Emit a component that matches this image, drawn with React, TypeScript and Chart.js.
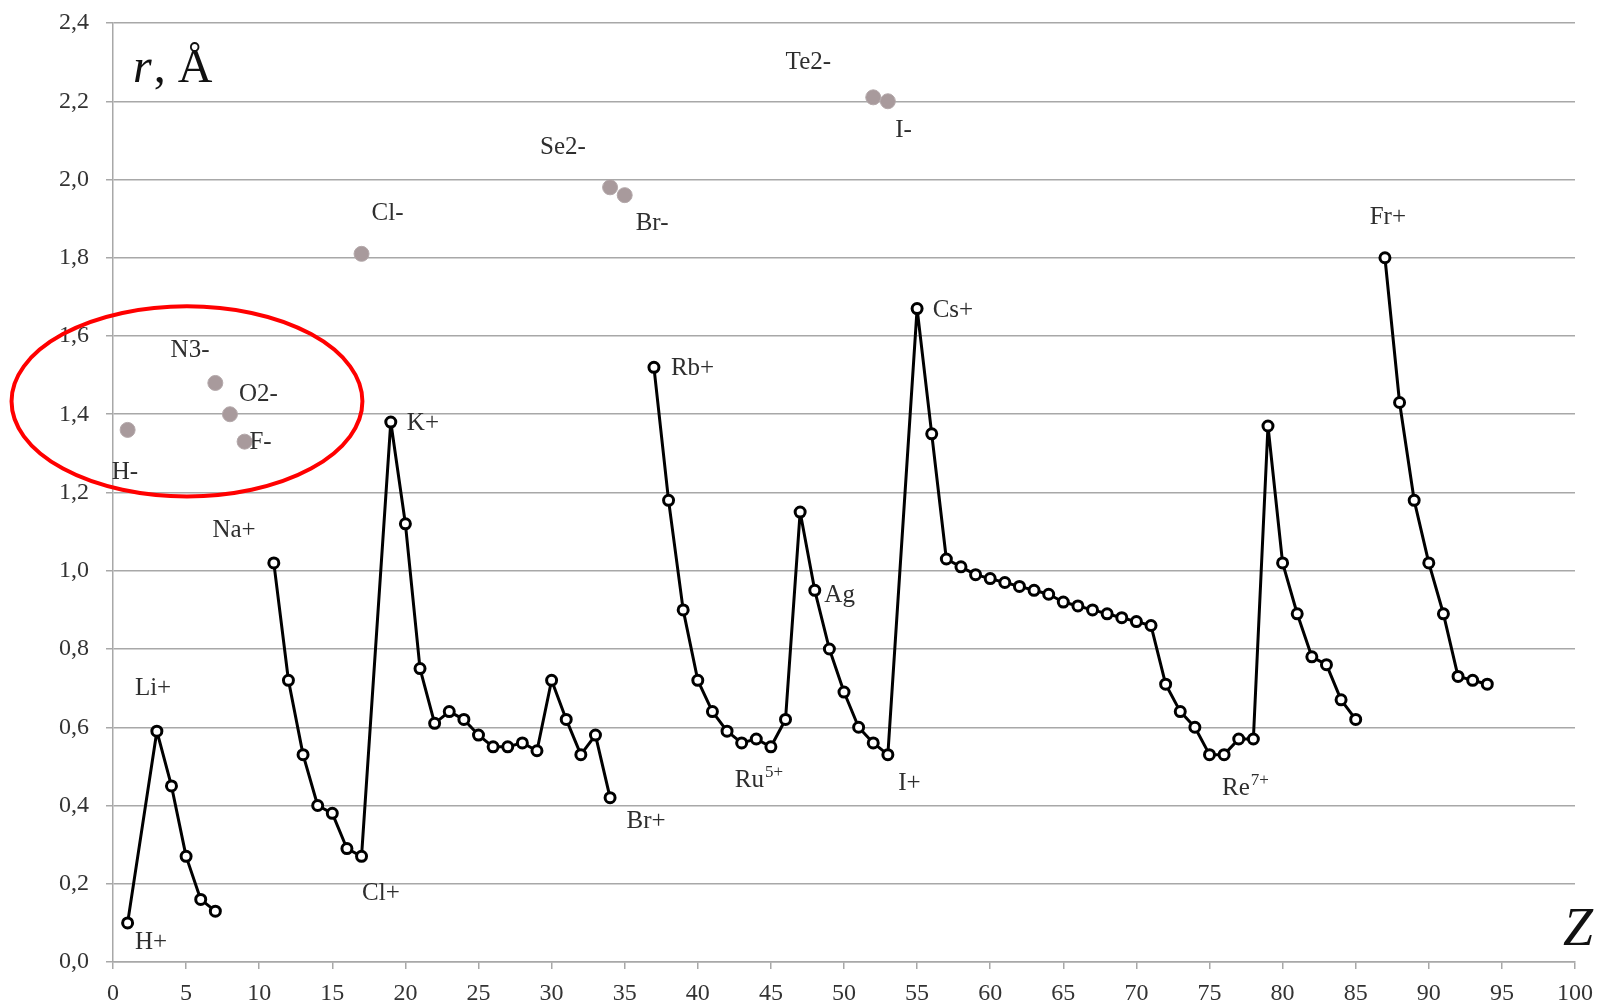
import React, { useEffect, useRef } from 'react';
import { Chart, registerables } from 'chart.js';

Chart.register(...registerables);

// ---- axis ranges ----
const zMin = 0;
const zMax = 100;
const zStep = 5;
const rMin = 0;
const rMax = 2.4;
const rStep = 0.2;

// ---- cation radii (open circles joined by a line), one array pair per chain ----
const chain1Z = [1, 3, 4, 5, 6, 7];
const chain1R = [0.10, 0.59, 0.45, 0.27, 0.16, 0.13];

const chain2Z = [11, 12, 13, 14, 15, 16, 17, 19, 20, 21, 22, 23, 24, 25, 26, 27, 28, 29, 30, 31, 32, 33, 34];
const chain2R = [1.02, 0.72, 0.53, 0.40, 0.38, 0.29, 0.27, 1.38, 1.12, 0.75, 0.61, 0.64, 0.62, 0.58, 0.55, 0.55, 0.56, 0.54, 0.72, 0.62, 0.53, 0.58, 0.42];

const chain3Z = [37, 38, 39, 40, 41, 42, 43, 44, 45, 46, 47, 48, 49, 50, 51, 52, 53,
  55, 56, 57, 58, 59, 60, 61, 62, 63, 64, 65, 66, 67, 68, 69, 70, 71,
  72, 73, 74, 75, 76, 77, 78, 79, 80, 81, 82, 83, 84, 85];
const chain3R = [1.52, 1.18, 0.90, 0.72, 0.64, 0.59, 0.56, 0.57, 0.55, 0.62, 1.15, 0.95, 0.80, 0.69, 0.60, 0.56, 0.53,
  1.67, 1.35, 1.03, 1.01, 0.99, 0.98, 0.97, 0.96, 0.95, 0.94, 0.92, 0.91, 0.90, 0.89, 0.88, 0.87, 0.86,
  0.71, 0.64, 0.60, 0.53, 0.53, 0.57, 0.57, 1.37, 1.02, 0.89, 0.78, 0.76, 0.67, 0.62];

const chain4Z = [87, 88, 89, 90, 91, 92, 93, 94];
const chain4R = [1.80, 1.43, 1.18, 1.02, 0.89, 0.73, 0.72, 0.71];

// ---- anion radii (filled grey dots) ----
const anionZ = [1, 7, 8, 9, 17, 34, 35, 52, 53];
const anionR = [1.36, 1.48, 1.40, 1.33, 1.81, 1.98, 1.96, 2.21, 2.20];

// ---- ion labels: text, superscript, anchor (Z, r) ----
const labelText = ['H-', 'N3-', 'O2-', 'F-', 'Na+', 'K+', 'Li+', 'H+', 'Cl+', 'Cl-', 'Br+', 'Ru', 'I+', 'Ag', 'Rb+', 'Cs+', 'Se2-', 'Br-', 'Te2-', 'I-', 'Fr+', 'Re'];
const labelSup = ['', '', '', '', '', '', '', '', '', '', '', '5+', '', '', '', '', '', '', '', '', '', '7+'];
const labelZ = [0.82, 5.27, 9.94, 10.09, 8.28, 21.2, 2.74, 2.6, 18.33, 18.78, 36.46, 44.15, 54.48, 49.7, 39.64, 57.45, 30.78, 36.87, 47.56, 54.07, 87.2, 77.43];
const labelR = [1.252, 1.564, 1.45, 1.327, 1.103, 1.376, 0.699, 0.051, 0.175, 1.913, 0.358, 0.464, 0.456, 0.937, 1.517, 1.666, 2.083, 1.887, 2.30, 2.126, 1.904, 0.444];

// ---- highlighted group (red ellipse) in data units ----
const ellipseCenterZ = 5.06;
const ellipseCenterR = 1.433;
const ellipseHalfZ = 12.0;
const ellipseHalfR = 0.243;

const axisTitleY = 'r';
const axisTitleYUnit = ', Å';
const axisTitleX = 'Z';

const SERIF = "'Liberation Serif', 'DejaVu Serif', serif";

const toPts = (zs: number[], rs: number[]) => zs.map((z, i) => ({ x: z, y: rs[i] }));

const overlayPlugin = {
  id: 'overlay',
  afterDatasetsDraw(chart: any) {
    const { ctx, chartArea, scales } = chart;
    const xs = scales.x;
    const ys = scales.y;
    ctx.save();

    // red ellipse
    const cx = xs.getPixelForValue(ellipseCenterZ);
    const cy = ys.getPixelForValue(ellipseCenterR);
    const rx = xs.getPixelForValue(ellipseCenterZ + ellipseHalfZ) - cx;
    const ry = cy - ys.getPixelForValue(ellipseCenterR + ellipseHalfR);
    ctx.beginPath();
    ctx.ellipse(cx, cy, rx, ry, 0, 0, Math.PI * 2);
    ctx.strokeStyle = '#ff0000';
    ctx.lineWidth = 4;
    ctx.stroke();

    // labels
    ctx.fillStyle = '#2e2e2e';
    ctx.textBaseline = 'middle';
    for (let i = 0; i < labelText.length; i++) {
      const px = xs.getPixelForValue(labelZ[i]);
      const py = ys.getPixelForValue(labelR[i]);
      ctx.font = `25px ${SERIF}`;
      const w1 = ctx.measureText(labelText[i]).width;
      let w2 = 0;
      if (labelSup[i]) {
        ctx.font = `17px ${SERIF}`;
        w2 = ctx.measureText(labelSup[i]).width;
      }
      const left = px - (w1 + w2) / 2;
      ctx.textAlign = 'left';
      ctx.font = `25px ${SERIF}`;
      ctx.fillText(labelText[i], left, py);
      if (labelSup[i]) {
        ctx.font = `17px ${SERIF}`;
        ctx.fillText(labelSup[i], left + w1 + 1, py - 8);
      }
    }

    // axis titles
    ctx.fillStyle = '#111111';
    ctx.textBaseline = 'alphabetic';
    ctx.textAlign = 'left';
    ctx.font = `italic 48px ${SERIF}`;
    const rx0 = chartArea.left + 20;
    const by = chartArea.top + 59;
    ctx.fillText(axisTitleY, rx0, by);
    const wr = ctx.measureText(axisTitleY).width;
    ctx.font = `48px ${SERIF}`;
    ctx.fillText(axisTitleYUnit, rx0 + wr + 2, by);

    ctx.font = `italic 54px ${SERIF}`;
    ctx.fillText(axisTitleX, chartArea.right - 12, chartArea.bottom - 17);
    ctx.restore();
  },
};

export default function App() {
  const ref = useRef<HTMLCanvasElement | null>(null);

  useEffect(() => {
    if (!ref.current) return;
    const cationStyle = {
      type: 'scatter' as const,
      showLine: true,
      borderColor: '#000000',
      borderWidth: 3,
      borderJoinStyle: 'round' as const,
      backgroundColor: '#ffffff',
      pointBackgroundColor: '#ffffff',
      pointBorderColor: '#000000',
      pointBorderWidth: 3,
      pointRadius: 5,
      tension: 0,
      order: 1,
    };
    const chart = new Chart(ref.current, {
      type: 'scatter',
      data: {
        datasets: [
          { ...cationStyle, label: 'chain1', data: toPts(chain1Z, chain1R) },
          { ...cationStyle, label: 'chain2', data: toPts(chain2Z, chain2R) },
          { ...cationStyle, label: 'chain3', data: toPts(chain3Z, chain3R) },
          { ...cationStyle, label: 'chain4', data: toPts(chain4Z, chain4R) },
          {
            type: 'scatter',
            label: 'anions',
            data: toPts(anionZ, anionR),
            showLine: false,
            pointBackgroundColor: '#a89a9c',
            pointBorderColor: '#b3a8aa',
            pointBorderWidth: 1,
            pointRadius: 7.5,
            order: 2,
          },
        ],
      },
      options: {
        responsive: false,
        animation: false,
        layout: { padding: { top: 23, right: 23, left: 0, bottom: 0 } },
        plugins: {
          legend: { display: false },
          tooltip: { enabled: false },
        },
        scales: {
          x: {
            type: 'linear',
            min: zMin,
            max: zMax,
            afterFit: (s: any) => { s.height = 44; s.paddingLeft = 0; s.paddingRight = 0; },
            ticks: {
              stepSize: zStep,
              color: '#333333',
              font: { family: SERIF, size: 24 },
              padding: 10,
              maxRotation: 0,
            },
            grid: {
              display: true,
              drawOnChartArea: false,
              drawTicks: true,
              tickLength: 7,
              color: '#a8a8a8',
              lineWidth: 1.5,
            },
            border: { display: true, color: '#a8a8a8', width: 1.5 },
          },
          y: {
            type: 'linear',
            min: rMin,
            max: rMax,
            afterFit: (s: any) => { s.width = 113; s.paddingTop = 0; s.paddingBottom = 0; },
            ticks: {
              stepSize: rStep,
              color: '#333333',
              font: { family: SERIF, size: 24 },
              padding: 17,
              callback: (v: any) => Number(v).toFixed(1).replace('.', ','),
            },
            grid: {
              display: true,
              drawTicks: true,
              tickLength: 7,
              color: '#a8a8a8',
              lineWidth: 1.5,
            },
            border: { display: true, color: '#a8a8a8', width: 1.5 },
          },
        },
      },
      plugins: [overlayPlugin],
    } as any);
    return () => chart.destroy();
  }, []);

  return (
    <div style={{ position: 'fixed', left: 0, top: 0, width: 1598, height: 1006, background: '#ffffff' }}>
      <canvas ref={ref} width={1598} height={1006} style={{ display: 'block' }} />
    </div>
  );
}
